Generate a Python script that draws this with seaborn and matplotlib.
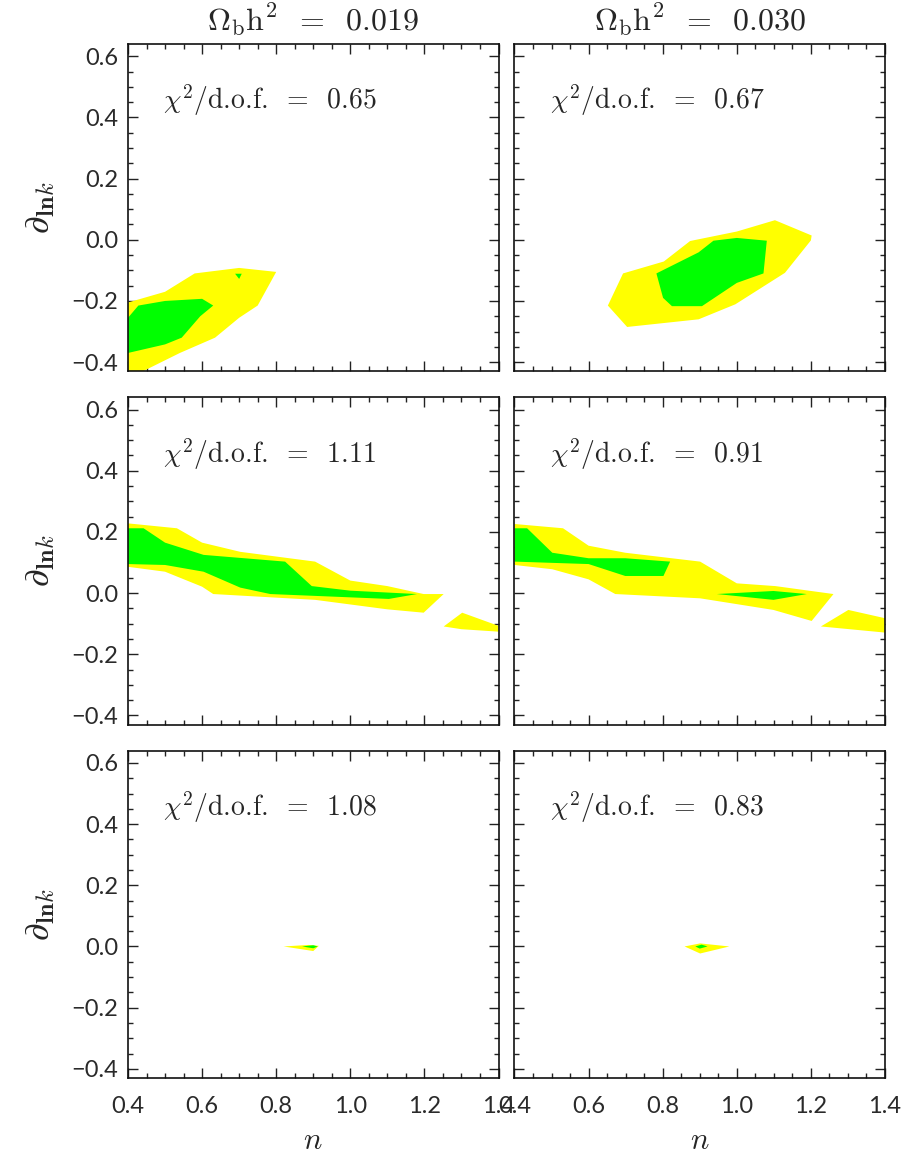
import seaborn as sns
import matplotlib.pyplot as plt
from matplotlib.ticker import MultipleLocator

# column titles and fit quality
OMEGA_BH2 = ["0.019", "0.030"]
CHI2_LEFT = ["0.65", "1.11", "1.08"]
CHI2_RIGHT = ["0.67", "0.91", "0.83"]

# confidence regions (n, alpha_lnk)
# row 1, left
Y1L_N = [0.40, 0.50, 0.58, 0.70, 0.80, 0.75, 0.70, 0.635, 0.54, 0.44, 0.40]
Y1L_A = [-0.205, -0.17, -0.11, -0.092, -0.105, -0.215, -0.255, -0.32, -0.37, -0.43, -0.43]
G1L_N = [0.40, 0.428, 0.50, 0.60, 0.63, 0.595, 0.545, 0.50, 0.40]
G1L_A = [-0.255, -0.215, -0.20, -0.193, -0.215, -0.25, -0.32, -0.342, -0.37]
G1L_DOT_N = [0.689, 0.707, 0.70]
G1L_DOT_A = [-0.111, -0.111, -0.128]
# row 1, right
Y1R_N = [0.693, 0.803, 0.874, 1.00, 1.103, 1.202, 1.20, 1.13, 0.996, 0.897, 0.704, 0.652]
Y1R_A = [-0.11, -0.071, -0.004, 0.027, 0.064, 0.014, -0.002, -0.108, -0.211, -0.26, -0.285, -0.215]
G1R_N = [0.783, 0.897, 0.937, 1.00, 1.081, 1.072, 1.00, 0.906, 0.825, 0.801]
G1R_A = [-0.11, -0.041, -0.003, 0.006, -0.003, -0.11, -0.141, -0.217, -0.217, -0.19]
# row 2, left
Y2L_N = [0.40, 0.532, 0.60, 0.703, 0.905, 1.00, 1.10, 1.198, 1.252, 1.198, 1.10, 0.905, 0.63, 0.60, 0.50, 0.40]
Y2L_A = [0.228, 0.212, 0.165, 0.135, 0.103, 0.041, 0.023, -0.003, -0.003, -0.064, -0.053, -0.022, -0.003, 0.021, 0.07, 0.086]
Y2L_B_N = [1.252, 1.302, 1.40, 1.40, 1.30]
Y2L_B_A = [-0.109, -0.064, -0.107, -0.126, -0.118]
G2L_N = [0.40, 0.442, 0.50, 0.604, 0.824, 0.896, 1.00, 1.18, 1.104, 0.784, 0.703, 0.604, 0.50, 0.40]
G2L_A = [0.212, 0.212, 0.165, 0.125, 0.103, 0.023, 0.008, -0.003, -0.019, -0.003, 0.018, 0.07, 0.092, 0.095]
# row 2, right
Y2R_N = [0.40, 0.531, 0.60, 0.699, 0.901, 1.00, 1.104, 1.261, 1.202, 1.099, 0.901, 0.672, 0.60, 0.502, 0.40]
Y2R_A = [0.226, 0.212, 0.155, 0.132, 0.103, 0.032, 0.023, -0.003, -0.091, -0.055, -0.017, -0.003, 0.045, 0.078, 0.092]
Y2R_B_N = [1.227, 1.301, 1.40, 1.40]
Y2R_B_A = [-0.109, -0.055, -0.082, -0.129]
G2R_N = [0.40, 0.434, 0.502, 0.60, 0.699, 0.82, 0.802, 0.699, 0.60, 0.40]
G2R_A = [0.212, 0.212, 0.132, 0.114, 0.114, 0.103, 0.056, 0.056, 0.095, 0.103]
G2R_B_N = [0.946, 1.099, 1.189, 1.099]
G2R_B_A = [-0.003, 0.007, -0.003, -0.022]
# row 3, left
Y3L_N = [0.82, 0.887, 0.915, 0.90]
Y3L_A = [0.0, 0.005, 0.002, -0.015]
G3L_N = [0.87, 0.90, 0.912, 0.90]
G3L_A = [0.0, 0.004, 0.0, -0.006]
# row 3, right
Y3R_N = [0.859, 0.901, 0.98, 0.901]
Y3R_A = [0.0, 0.01, 0.0, -0.023]
G3R_N = [0.888, 0.905, 0.921, 0.90]
G3R_A = [0.0, 0.006, 0.0, -0.007]

YELLOW = "#ffff00"
GREEN = "#00ff00"

panels = [
    [[(Y1L_N, Y1L_A, YELLOW), (G1L_N, G1L_A, GREEN), (G1L_DOT_N, G1L_DOT_A, GREEN)],
     [(Y1R_N, Y1R_A, YELLOW), (G1R_N, G1R_A, GREEN)]],
    [[(Y2L_N, Y2L_A, YELLOW), (Y2L_B_N, Y2L_B_A, YELLOW), (G2L_N, G2L_A, GREEN)],
     [(Y2R_N, Y2R_A, YELLOW), (Y2R_B_N, Y2R_B_A, YELLOW), (G2R_N, G2R_A, GREEN), (G2R_B_N, G2R_B_A, GREEN)]],
    [[(Y3L_N, Y3L_A, YELLOW), (G3L_N, G3L_A, GREEN)],
     [(Y3R_N, Y3R_A, YELLOW), (G3R_N, G3R_A, GREEN)]],
]
chi2 = [[CHI2_LEFT[i], CHI2_RIGHT[i]] for i in range(3)]

sns.set_theme(style="ticks")
plt.rcParams["font.family"] = ["Lato", "DejaVu Sans"]
plt.rcParams["mathtext.fontset"] = "cm"

fig = plt.figure(figsize=(9.08, 11.61), dpi=100)
axes = fig.subplots(3, 2)
fig.subplots_adjust(left=128/908, right=885/908, top=1-44/1161, bottom=1-1078/1161,
                    wspace=16/370.5, hspace=26/327)

for r in range(3):
    for c in range(2):
        ax = axes[r, c]
        for xs, ys, col in panels[r][c]:
            ax.fill(xs, ys, color=col, lw=0)
        ax.set_xlim(0.4, 1.4)
        ax.set_ylim(-0.43, 0.64)
        ax.xaxis.set_major_locator(MultipleLocator(0.2))
        ax.xaxis.set_minor_locator(MultipleLocator(0.05))
        ax.yaxis.set_major_locator(MultipleLocator(0.2))
        ax.yaxis.set_minor_locator(MultipleLocator(0.05))
        ax.tick_params(which="both", direction="in", top=True, right=True,
                       color="#222222", width=1.0)
        ax.tick_params(which="major", length=7.2)
        ax.tick_params(which="minor", length=3.6)
        ax.tick_params(axis="x", pad=13, labelsize=17, labelcolor="#2a2a2a")
        ax.tick_params(axis="y", pad=7, labelsize=17, labelcolor="#2a2a2a")
        for s in ax.spines.values():
            s.set_linewidth(1.2)
            s.set_color("#111111")
        ax.xaxis.set_major_formatter(lambda v, p: f"{v:.1f}")
        ax.yaxis.set_major_formatter(lambda v, p: f"{v:.1f}".replace("-", "\u2212"))
        if r < 2:
            ax.tick_params(axis="x", labelbottom=False)
        else:
            ax.set_xlabel(r"$n$", fontsize=22)
            ax.xaxis.label.set_va("center")
            ax.xaxis.set_label_coords(0.5, -0.19)
        if c == 1:
            ax.tick_params(axis="y", labelleft=False)
        else:
            ax.set_ylabel(r"$\partial_{\mathbf{ln}k}$", fontsize=25)
            ax.yaxis.label.set_va("center")
            ax.yaxis.set_label_coords(-0.238, 0.5)
        if r == 0:
            ax.set_title(r"$\Omega_{\rm b}$h$^2$  =  " + OMEGA_BH2[c],
                         fontsize=23, pad=10, family="cmr10")
        ax.text(0.095, 0.80, r"$\chi^2$/d.o.f.  =  " + chi2[r][c],
                transform=ax.transAxes, fontsize=20, va="baseline", ha="left",
                family="cmr10")

fig.savefig("out.png", dpi=100)
